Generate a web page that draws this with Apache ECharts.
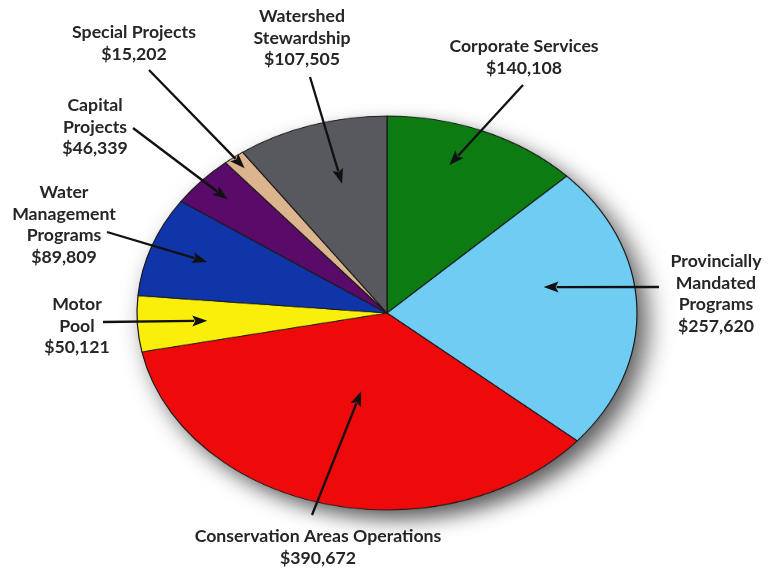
<!DOCTYPE html>
<html><head><meta charset="utf-8">
<script src="https://cdn.jsdelivr.net/npm/echarts@6/dist/echarts.min.js"></script>
<style>
html,body{margin:0;padding:0;background:#fff;}
#wrap{position:relative;width:776px;height:570px;overflow:hidden;background:#fff;}
#pie{position:absolute;left:0;top:13px;width:776px;height:600px;transform:scaleY(0.788);transform-origin:387px 300px;}
#labels{position:absolute;left:0;top:0;width:776px;height:570px;}
</style></head><body>
<div id="wrap"><div id="pie"></div><div id="labels"></div></div>
<script>
const categories = ['Corporate Services','Provincially Mandated Programs','Conservation Areas Operations','Motor Pool','Water Management Programs','Capital Projects','Special Projects','Watershed Stewardship'];
const values = [140108,257620,390672,50121,89809,46339,15202,107505];
const colors = ['#0c7c12','#6fcdf3','#ee0a0a','#f9ef0b','#0f35a8','#5a0b69','#dcb48d','#58595e'];
const labelNames = ['Corporate Services','Provincially\nMandated\nPrograms','Conservation Areas Operations','Motor\nPool','Water\nManagement\nPrograms','Capital\nProjects','Special Projects','Watershed\nStewardship'];
// layout only: text centre x, text top y, arrow tail x, tail y, tip radial fraction, tip angle offset (deg)
const labelLayout = [
  [524, 36, 523, 85, 0.79, -4.6],
  [716, 251, 659, 287, 0.64, -10.1],
  [318, 526, 312, 515, 0.41, 0],
  [77, 294, 103, 322, 0.72, 0],
  [64, 182, 107, 232, 0.765, 0],
  [95, 95, 133, 128, 0.86, 0],
  [134, 22, 149, 70, 0.93, 0],
  [302, 6, 310, 77, 0.68, 2.3]
];

// pie geometry (screen): centre and ellipse radii
const CX = 387, CY = 313, RX = 250, RY = 197;
const PIE_CY = 300; // centre inside the unscaled pie canvas

const pieChart = echarts.init(document.getElementById('pie'), null, {renderer: 'canvas'});
pieChart.setOption({
  animation: false,
  graphic: [{
    type: 'circle', z: 0, silent: true,
    shape: {cx: CX, cy: PIE_CY, r: RX},
    style: {fill: '#666', shadowBlur: 26, shadowColor: 'rgba(0,0,0,0.65)', shadowOffsetX: 10, shadowOffsetY: 12}
  }],
  series: [{
    type: 'pie', z: 2,
    center: [CX, PIE_CY], radius: [0, RX],
    startAngle: 90, clockwise: true,
    label: {show: false}, labelLine: {show: false},
    emphasis: {disabled: true},
    itemStyle: {borderColor: '#1a1a1a', borderWidth: 1.2},
    data: categories.map((c, i) => ({name: c, value: values[i], itemStyle: {color: colors[i]}}))
  }]
});

// labels + arrows overlay
const total = values.reduce((a, b) => a + b, 0);
const graphics = [];
let cum = 0;
values.forEach((v, i) => {
  const mid = (cum + v / 2) / total * 360;
  cum += v;
  const L = labelLayout[i];
  const th = (mid + L[5]) * Math.PI / 180;
  const tipX = CX + L[4] * RX * Math.sin(th);
  const tipY = CY - L[4] * RY * Math.cos(th);
  const tx = L[2], ty = L[3];
  const dx = tipX - tx, dy = tipY - ty, len = Math.hypot(dx, dy);
  const ux = dx / len, uy = dy / len;
  const headL = 15, headW = 5.5;
  const bx = tipX - ux * headL, by = tipY - uy * headL;
  graphics.push({
    type: 'text', x: L[0], y: L[1],
    style: {
      text: labelNames[i] + '\n$' + v.toLocaleString('en-US'),
      fill: '#262626', fontFamily: 'Lato', fontWeight: 'bold', fontSize: 17.7,
      align: 'center', verticalAlign: 'top', lineHeight: 21.5
    }
  });
  graphics.push({
    type: 'line', shape: {x1: tx, y1: ty, x2: bx + ux * 2, y2: by + uy * 2},
    style: {stroke: '#111', lineWidth: 2.3}
  });
  graphics.push({
    type: 'polygon',
    shape: {points: [[tipX, tipY], [bx - uy * headW, by + ux * headW], [bx + ux * 3, by + uy * 3], [bx + uy * headW, by - ux * headW]]},
    style: {fill: '#111'}
  });
});
const labelChart = echarts.init(document.getElementById('labels'), null, {renderer: 'canvas'});
labelChart.setOption({animation: false, graphic: graphics});
</script>
</body></html>
